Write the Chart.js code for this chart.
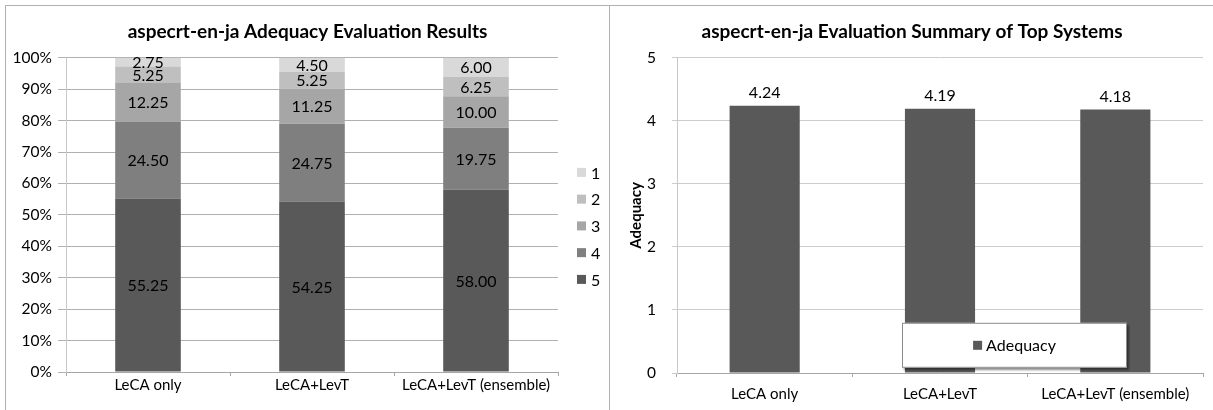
<!DOCTYPE html>
<html>
<head>
<meta charset="utf-8">
<script src="https://cdn.jsdelivr.net/npm/chart.js@4/dist/chart.umd.min.js"></script>
<style>
  body { margin: 0; background: #fff; width: 1213px; height: 410px; overflow: hidden; font-family: Lato, sans-serif; }
  .panel { position: absolute; top: 5px; height: 404px; border: 1px solid #b0b0b0; background: #fff; }
  #leftPanel { left: 5px; width: 603px; }
  #rightPanel { left: 609px; width: 604px; border-right: none; }
  canvas { display: block; }
</style>
</head>
<body>
<div class="panel" id="leftPanel"><canvas id="ratioChart" width="603" height="404"></canvas></div>
<div class="panel" id="rightPanel"><canvas id="summaryChart" width="604" height="404"></canvas></div>
<script>
const SYSTEMS = ['LeCA only', 'LeCA+LevT', 'LeCA+LevT (ensemble)'];
// share of each adequacy score (percent)
const SCORE_5 = [55.25, 54.25, 58.00];
const SCORE_4 = [24.50, 24.75, 19.75];
const SCORE_3 = [12.25, 11.25, 10.00];
const SCORE_2 = [5.25, 5.25, 6.25];
const SCORE_1 = [2.75, 4.50, 6.00];
const SCORE_COLORS = ['#595959', '#7f7f7f', '#a6a6a6', '#bfbfbf', '#d9d9d9'];
// average adequacy
const ADEQUACY = [4.24, 4.19, 4.18];

const FONT = 'Lato';

// labels inside (stacked) or above bars
const valueLabels = {
    id: 'valueLabels',
    afterDatasetsDraw(chart, args, opts) {
        const ctx = chart.ctx;
        ctx.save();
        ctx.font = `${opts.size}px ${FONT}`;
        ctx.fillStyle = '#000';
        ctx.textAlign = 'center';
        chart.data.datasets.forEach((ds, i) => {
            chart.getDatasetMeta(i).data.forEach((bar, j) => {
                const text = ds.data[j].toFixed(2);
                if (opts.above) {
                    ctx.textBaseline = 'bottom';
                    ctx.fillText(text, bar.x, bar.y - opts.gap);
                } else {
                    ctx.textBaseline = 'middle';
                    ctx.fillText(text, bar.x, (bar.y + bar.base) / 2 + 1);
                }
            });
        });
        ctx.restore();
    }
};

// vertical legend right of the plot, score 1 on top
const sideLegend = {
    id: 'sideLegend',
    afterDraw(chart, args, opts) {
        const { ctx, chartArea: ca } = chart;
        const items = chart.data.datasets.map(ds => ({ label: ds.label, color: ds.backgroundColor })).reverse();
        const mid = (ca.top + ca.bottom) / 2 + opts.shiftY;
        const y0 = mid - (items.length - 1) / 2 * opts.spacing;
        ctx.save();
        ctx.font = `16px ${FONT}`;
        ctx.textBaseline = 'middle';
        items.forEach((it, i) => {
            const y = y0 + i * opts.spacing;
            ctx.fillStyle = it.color;
            ctx.fillRect(ca.right + opts.dx, y - 4.5, 9, 9);
            ctx.fillStyle = '#000';
            ctx.fillText(it.label, ca.right + opts.dx + 14, y + 1);
        });
        ctx.restore();
    }
};

// boxed legend sitting inside the plot area
const boxLegend = {
    id: 'boxLegend',
    afterDraw(chart, args, opts) {
        const { ctx, chartArea: ca } = chart;
        const x = ca.left + opts.left, y = ca.top + opts.top;
        const ds = chart.data.datasets[0];
        ctx.save();
        ctx.shadowColor = 'rgba(0,0,0,0.45)';
        ctx.shadowOffsetX = 2;
        ctx.shadowOffsetY = 2;
        ctx.shadowBlur = 2;
        ctx.fillStyle = '#fff';
        ctx.fillRect(x, y, opts.width, opts.height);
        ctx.shadowColor = 'transparent';
        ctx.strokeStyle = '#8c8c8c';
        ctx.lineWidth = 1;
        ctx.strokeRect(x + 0.5, y + 0.5, opts.width - 1, opts.height - 1);
        ctx.font = `16px ${FONT}`;
        const tw = ctx.measureText(ds.label).width;
        const gx = x + (opts.width - (13 + tw)) / 2;
        const cy = y + opts.height / 2;
        ctx.fillStyle = ds.backgroundColor;
        ctx.fillRect(gx, cy - 4.5, 9, 9);
        ctx.fillStyle = '#000';
        ctx.textBaseline = 'middle';
        ctx.fillText(ds.label, gx + 13, cy + 1);
        ctx.restore();
    }
};

const titleOpts = text => ({
    display: true,
    text,
    color: '#000',
    font: { family: FONT, size: 19, weight: 'bold' },
    padding: { top: 14, bottom: 15 }
});

// empty right-hand axis that only reserves room, so the title stays centred on the panel
const spacerAxis = w => ({
    position: 'right',
    display: true,
    grid: { display: false },
    border: { display: false },
    ticks: { display: false },
    afterFit: s => { s.width = w; }
});

new Chart(document.getElementById('ratioChart'), {
    type: 'bar',
    data: {
        labels: SYSTEMS,
        datasets: [
            { label: '5', data: SCORE_5, backgroundColor: SCORE_COLORS[0] },
            { label: '4', data: SCORE_4, backgroundColor: SCORE_COLORS[1] },
            { label: '3', data: SCORE_3, backgroundColor: SCORE_COLORS[2] },
            { label: '2', data: SCORE_2, backgroundColor: SCORE_COLORS[3] },
            { label: '1', data: SCORE_1, backgroundColor: SCORE_COLORS[4] },
        ]
    },
    plugins: [valueLabels, sideLegend],
    options: {
        responsive: false,
        animation: false,
        layout: { padding: 0 },
        datasets: { bar: { categoryPercentage: 1, barPercentage: 0.4 } },
        plugins: {
            legend: { display: false },
            tooltip: { enabled: false },
            title: titleOpts('aspecrt-en-ja Adequacy Evaluation Results'),
            valueLabels: { size: 16 },
            sideLegend: { dx: 19, spacing: 26.75, shiftY: 11 }
        },
        scales: {
            x: {
                stacked: true,
                afterFit: s => { s.height = 38; },
                grid: { drawOnChartArea: false, tickLength: 4, color: '#a6a6a6' },
                border: { color: '#a6a6a6' },
                ticks: { color: '#000', padding: 0, font: { family: FONT, size: 15 } }
            },
            y: {
                stacked: true,
                min: 0, max: 100,
                afterFit: s => { s.width = 60; },
                grid: { color: '#b0b0b0', tickLength: 8 },
                border: { color: '#c8c8c8' },
                ticks: { stepSize: 10, color: '#000', padding: 6, font: { family: FONT, size: 15.5 }, callback: v => v + '%' }
            },
            spacer: spacerAxis(51)
        }
    }
});

new Chart(document.getElementById('summaryChart'), {
    type: 'bar',
    data: {
        labels: SYSTEMS,
        datasets: [{ label: 'Adequacy', data: ADEQUACY, backgroundColor: '#595959' }]
    },
    plugins: [valueLabels, boxLegend],
    options: {
        responsive: false,
        animation: false,
        layout: { padding: 0 },
        datasets: { bar: { categoryPercentage: 1, barPercentage: 0.4 } },
        plugins: {
            legend: { display: false },
            tooltip: { enabled: false },
            title: titleOpts('aspecrt-en-ja Evaluation Summary of Top Systems'),
            valueLabels: { size: 16, above: true, gap: 5 },
            boxLegend: { left: 225, top: 265, width: 225, height: 45 }
        },
        scales: {
            x: {
                afterFit: s => { s.height = 37; },
                grid: { drawOnChartArea: false, tickLength: 4, color: '#a6a6a6' },
                border: { color: '#a6a6a6' },
                ticks: { color: '#000', padding: 8, font: { family: FONT, size: 15 } }
            },
            y: {
                min: 0, max: 5,
                afterFit: s => { s.width = 67; },
                title: { display: true, text: 'Adequacy', color: '#000', font: { family: FONT, size: 15, weight: 'bold' }, padding: { top: 17 } },
                grid: { color: '#cccccc', tickLength: 5 },
                border: { color: '#c8c8c8' },
                ticks: { stepSize: 1, color: '#000', padding: 16, font: { family: FONT, size: 15.5 } }
            },
            spacer: spacerAxis(11)
        }
    }
});
</script>
</body>
</html>
